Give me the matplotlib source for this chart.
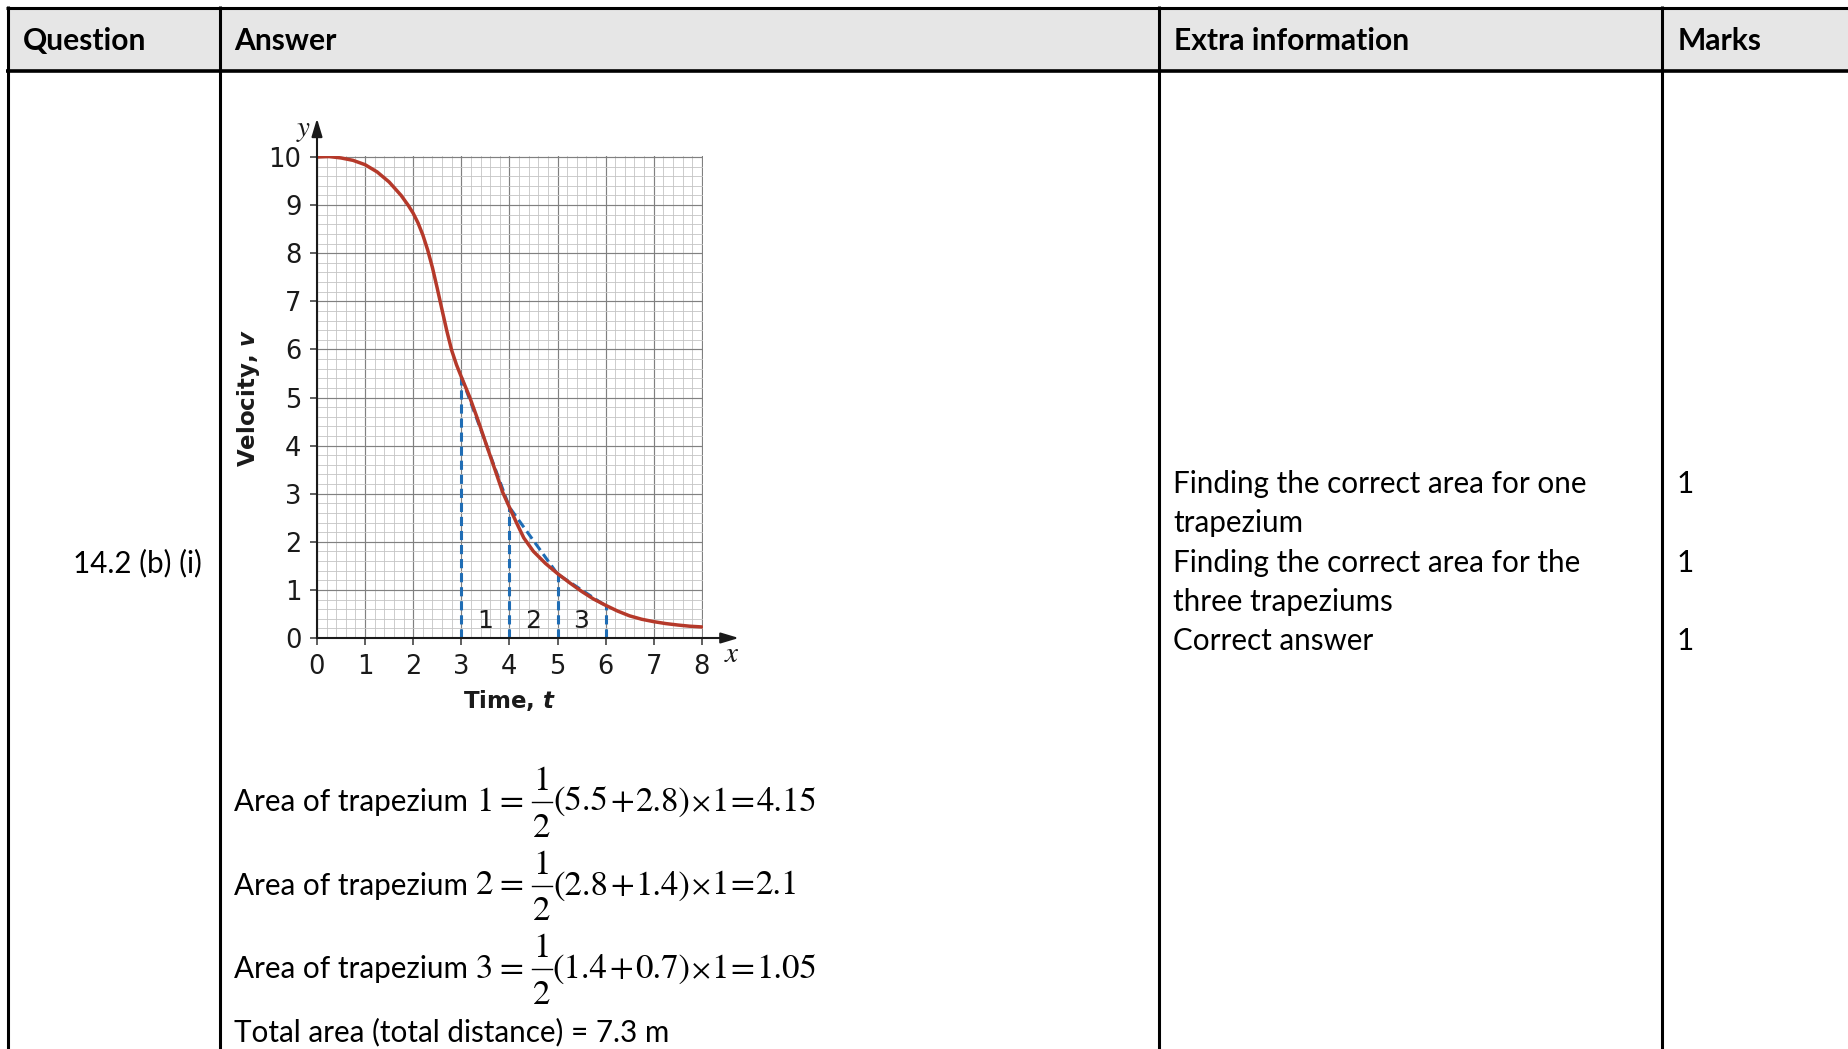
import matplotlib
matplotlib.use("Agg")
import matplotlib.pyplot as plt
from matplotlib.patches import Rectangle
from matplotlib.ticker import MultipleLocator

W, H = 1849, 1049

# ─── Data ────────────────────────────────────────────────────────────────────

time_t = [0.0, 0.25, 0.5, 0.75, 1.0, 1.25, 1.5, 1.75, 1.9, 2.0, 2.1, 2.2,
          2.3, 2.4, 2.5, 2.6, 2.7, 2.8, 2.9, 3.0, 3.17, 3.35, 3.52, 3.7,
          3.86, 4.0, 4.15, 4.3, 4.5, 4.75, 5.0, 5.25, 5.5, 5.75, 6.0, 6.25,
          6.5, 6.75, 7.0, 7.25, 7.5, 7.75, 8.0]
velocity_v = [10.0, 10.01, 9.98, 9.93, 9.84, 9.69, 9.48, 9.2, 8.99, 8.83,
              8.63, 8.38, 8.07, 7.7, 7.27, 6.82, 6.38, 5.98, 5.68, 5.43,
              5.02, 4.52, 4.02, 3.5, 3.03, 2.72, 2.39, 2.08, 1.8, 1.55, 1.34,
              1.15, 0.97, 0.81, 0.68, 0.56, 0.46, 0.39, 0.34, 0.3, 0.27,
              0.245, 0.23]

strip_t = [3, 4, 5, 6]
strip_v = [5.43, 2.72, 1.33, 0.67]
strip_labels = ["1", "2", "3"]

x_ticks = list(range(0, 9))
y_ticks = list(range(0, 11))

headers = ["Question", "Answer", "Extra information", "Marks"]
question = "14.2 (b) (i)"
extra_lines = ["Finding the correct area for one", "trapezium",
               "Finding the correct area for the", "three trapeziums",
               "Correct answer"]
marks = ["1", "", "1", "", "1"]
trap_sums = [("5.5", "2.8", "4.15"), ("2.8", "1.4", "2.1"), ("1.4", "0.7", "1.05")]
total_line = "Total area (total distance) = 7.3 m"

# ─── Style ───────────────────────────────────────────────────────────────────

RED   = "#b5392a"
BLUE  = "#1f6db5"
INK   = "#1a1a1a"
HEAD  = "#e6e6e6"
TXT   = "Lato"
BODY  = 21.3
HEADF = 21.6
MATH  = 25
SERIF = "STIXGeneral"

plt.rcParams["mathtext.it"] = "DejaVu Sans:italic:bold"

fig = plt.figure(figsize=(W / 100, H / 100), dpi=100, facecolor="white")

# table layer in pixel coordinates (y down)
tab = fig.add_axes([0, 0, 1, 1])
tab.set_xlim(0, W)
tab.set_ylim(H, 0)
tab.axis("off")

tab.add_patch(Rectangle((8, 8), W, 62, color=HEAD, zorder=0))
lw = 2.2
tab.plot([6, W], [7.5, 7.5], color="black", lw=lw, solid_capstyle="butt")
tab.plot([6, W], [70.5, 70.5], color="black", lw=2.6, solid_capstyle="butt")
for xc in [7.5, 219.5, 1158.5, 1661.5]:
    tab.plot([xc, xc], [6, H], color="black", lw=lw, solid_capstyle="butt")

for xh, lbl in zip([23, 234, 1174, 1678], headers):
    tab.text(xh, 50, lbl, family=TXT, fontsize=HEADF, fontweight="bold",
             color="black", va="baseline")

tab.text(73, 572, question, family=TXT, fontsize=BODY, va="baseline")

for i, (line, mk) in enumerate(zip(extra_lines, marks)):
    yb = 493 + i * 39.3
    tab.text(1173, yb, line, family=TXT, fontsize=BODY, va="baseline")
    if mk:
        tab.text(1677, yb, mk, family=TXT, fontsize=BODY, va="baseline")

# formulas: sans words, then serif maths built piece by piece
renderer = fig.canvas.get_renderer()


def run(x, yb, parts):
    for s, gap, size in parts:
        t = tab.text(x + gap, yb, s, family=SERIF, fontsize=size,
                     va="baseline")
        x = t.get_window_extent(renderer).x1
    return x


for i, (a, b, c) in enumerate(trap_sums):
    yb = 811 + i * 83.5
    t = tab.text(234, yb, "Area of trapezium", family=TXT, fontsize=BODY,
                 va="baseline")
    x = t.get_window_extent(renderer).x1 + 8
    x = run(x, yb, [(f"{i + 1}", 0, MATH), ("=", 6, MATH)])
    x += 9
    bar_w = 20
    tab.plot([x, x + bar_w], [yb - 9, yb - 9], color="black", lw=1.0)
    tab.text(x + bar_w / 2, yb - 21, "1", family=SERIF, fontsize=MATH,
             ha="center", va="baseline")
    tab.text(x + bar_w / 2, yb + 26, "2", family=SERIF, fontsize=MATH,
             ha="center", va="baseline")
    run(x + bar_w, yb, [(f"({a}", 1, MATH), ("+", 2, MATH),
                        (f"{b})", 2, MATH), ("\u00d7", 1, 21),
                        ("1", 1, MATH), ("=", 2, MATH), (c, 2, MATH)])
tab.text(234, 1041.5, total_line, family=TXT, fontsize=BODY, va="baseline")

# ─── Chart ───────────────────────────────────────────────────────────────────

unit = 48.1
x0, y0 = 317, 638
ax = fig.add_axes([x0 / W, (H - y0) / H, unit * 8.03 / W, unit * 10.03 / H])
ax.set_facecolor("none")
ax.set_xlim(0, 8.03)
ax.set_ylim(0, 10.03)

ax.xaxis.set_minor_locator(MultipleLocator(0.2))
ax.yaxis.set_minor_locator(MultipleLocator(0.2))
ax.set_xticks(x_ticks)
ax.set_yticks(y_ticks)
ax.grid(which="minor", color="#c4c4c4", lw=0.6, zorder=0)
ax.grid(which="major", color="#808080", lw=0.85, zorder=0)
ax.set_axisbelow(True)
for s in ax.spines.values():
    s.set_visible(False)
ax.tick_params(which="minor", length=0)
ax.tick_params(which="major", length=5.3, width=1.1, color="#333333",
               direction="out", pad=6, labelsize=18.5, labelcolor=INK)

# trapezium strips
ax.vlines(strip_t, 0, strip_v, colors=BLUE, lw=2.2,
          linestyles=(0, (3, 1.6)), zorder=3)
ax.plot(strip_t, strip_v, color=BLUE, lw=2.2, ls=(0, (3, 1.6)), zorder=3)
for k, lbl in enumerate(strip_labels):
    mid = (strip_t[k] + strip_t[k + 1]) / 2
    ax.text(mid, 0.36, lbl, ha="center", va="center", fontsize=18,
            color=INK, zorder=4)

ax.plot(time_t, velocity_v, color=RED, lw=2.5, zorder=5,
        solid_capstyle="round", solid_joinstyle="round")

# axes with arrows
arrow = dict(arrowstyle="-|>,head_length=0.6,head_width=0.18", color=INK,
             lw=1.5, mutation_scale=18, shrinkA=0, shrinkB=0)
ax.annotate("", xy=(8.77, 0), xytext=(0, 0), arrowprops=arrow,
            annotation_clip=False, zorder=6)
ax.annotate("", xy=(0, 10.8), xytext=(0, 0), arrowprops=arrow,
            annotation_clip=False, zorder=6)
ax.text(-0.27, 10.57, "$y$", math_fontfamily="stix", fontsize=21,
        ha="center", va="center", color=INK)
ax.text(8.63, -0.33, "$x$", math_fontfamily="stix", fontsize=21,
        ha="center", va="center", color=INK)

ax.text(4.0, -1.29, "Time, $t$", math_fontfamily="custom", fontsize=16.5,
        fontweight="bold", ha="center", va="center", color=INK)
ax.text(-1.42, 5.0, "Velocity, $v$", math_fontfamily="custom", fontsize=16.5,
        fontweight="bold", rotation=90, ha="center", va="center", color=INK)

fig.savefig("out.png", dpi=100, facecolor="white")
